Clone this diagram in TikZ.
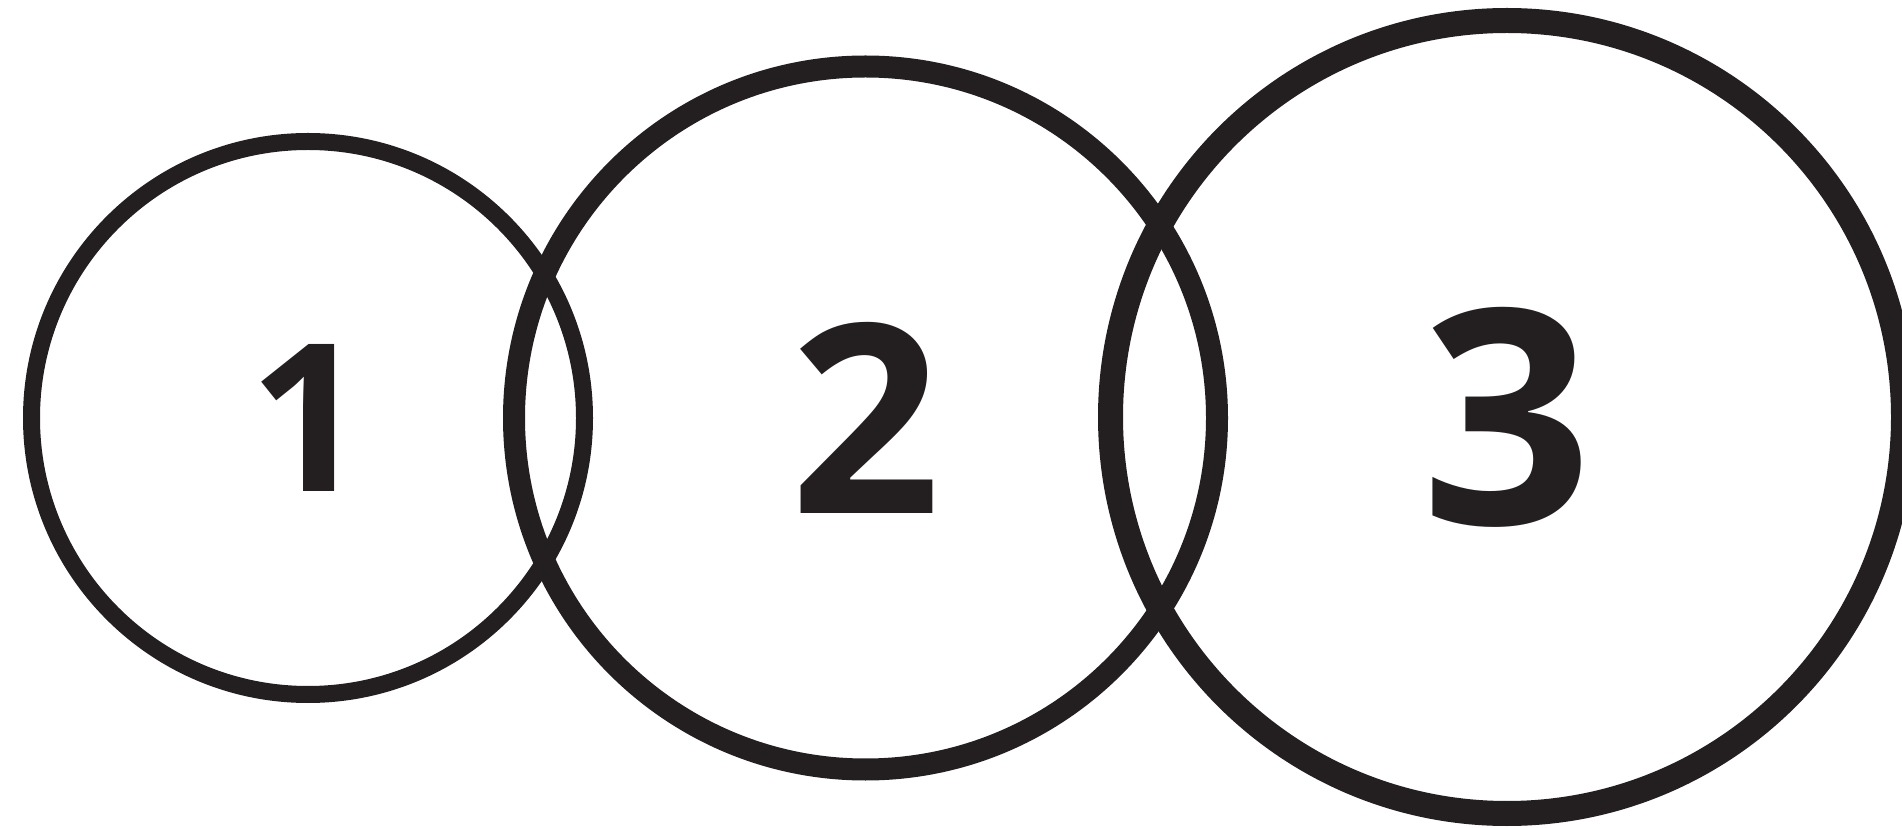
\documentclass[tikz,border=0pt]{standalone}
\usepackage{fontspec}
\setmainfont{Open Sans}
\usepackage{xcolor}
\usetikzlibrary{positioning}
\definecolor{ink}{HTML}{231F20}

\begin{document}
\begin{tikzpicture}[x=0.5pt,y=-0.5pt,
  ring/.style={draw=ink,circle,inner sep=0pt,text=ink}]
\useasboundingbox (0,0) rectangle (1902,828);
\clip (0,0) rectangle (1902,828);
\node[ring,line width=8.5pt,minimum size=276.5pt,
      font=\fontsize{103}{103}\selectfont\bfseries] (one) at (308,418) {1};
\node[ring,line width=11pt,minimum size=351.5pt,
      font=\fontsize{132}{132}\selectfont\bfseries] (two) at (865.5,418) {2};
\node[ring,line width=12.5pt,minimum size=396.5pt,
      font=\fontsize{150}{150}\selectfont\bfseries] (three) at (1507,417) {3};
\end{tikzpicture}
\end{document}
